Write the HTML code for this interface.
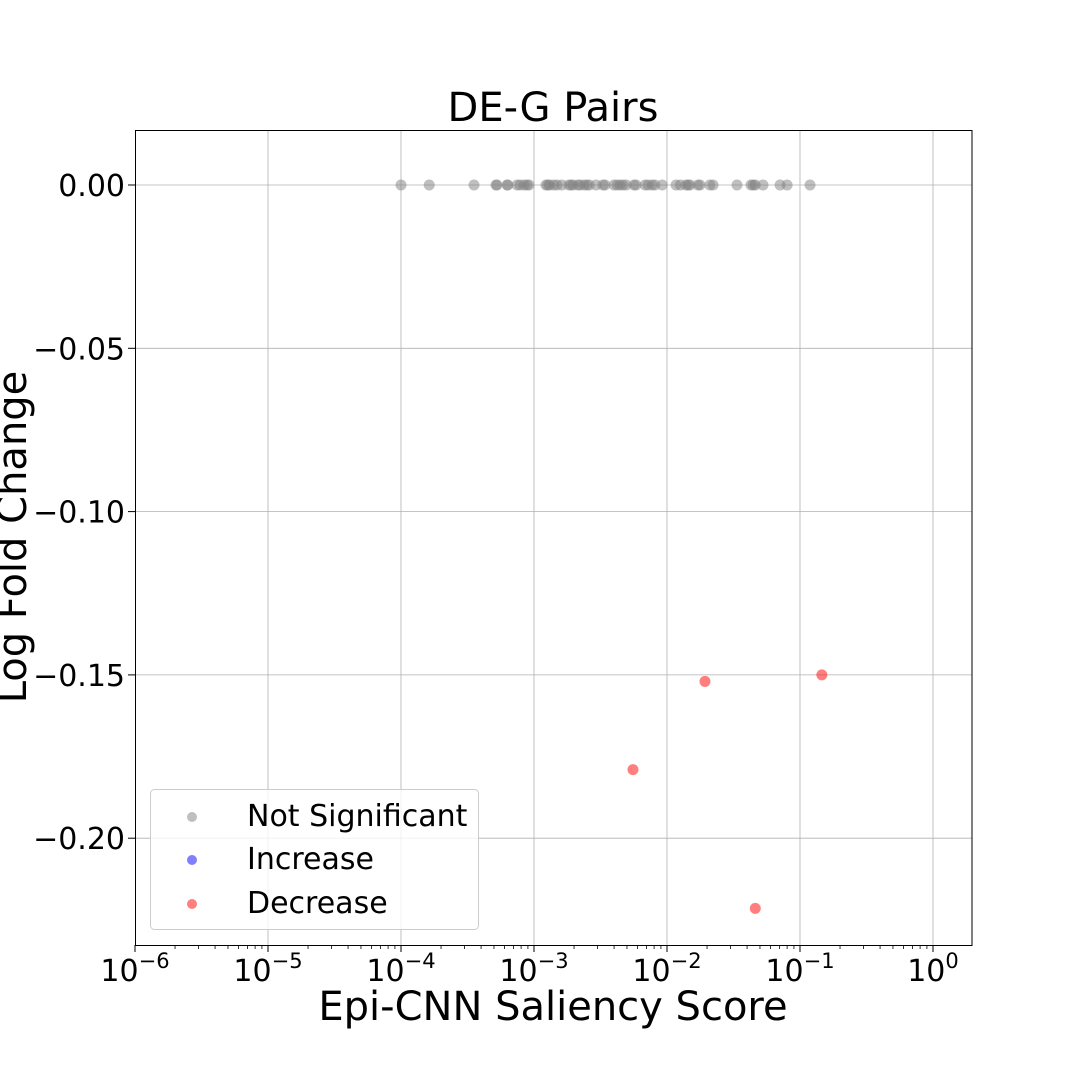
<!DOCTYPE html>
<html><head><meta charset="utf-8"><style>
body{margin:0;background:#fff;}
svg{display:block;font-family:"DejaVu Sans","Liberation Sans",sans-serif;}
</style></head><body>
<svg id="chart" width="1080" height="1080">
<g id="grid"></g>
<g id="points"></g>
<rect x="135.5" y="130.5" width="836.5" height="815" fill="none" stroke="#000" stroke-width="1"/>
<g id="axes"></g>
<text x="553" y="121" font-size="40" text-anchor="middle">DE-G Pairs</text>
<text x="553" y="1020" font-size="40" text-anchor="middle">Epi-CNN Saliency Score</text>
<text transform="translate(26,537) rotate(-90)" font-size="40" text-anchor="middle">Log Fold Change</text>
<g>
<rect x="150.5" y="789.5" width="328" height="140" rx="4" fill="#fff" fill-opacity="0.8" stroke="#ccc"/>
<circle cx="192" cy="817" r="5" fill="#808080" fill-opacity="0.5"/>
<text x="247" y="826" font-size="30">Not Significant</text>
<circle cx="192" cy="860" r="5" fill="#0000ff" fill-opacity="0.5"/>
<text x="247" y="869" font-size="30">Increase</text>
<circle cx="192" cy="904" r="5" fill="#ff0000" fill-opacity="0.5"/>
<text x="247" y="913" font-size="30">Decrease</text>
</g>
</svg>
<script>
const nsX=[1.0e-4,1.63e-4,3.54e-4,5.18e-4,5.27e-4,6.27e-4,6.36e-4,7.45e-4,7.84e-4,8.41e-4,8.86e-4,9.17e-4,1.23e-3,1.27e-3,1.31e-3,1.41e-3,1.49e-3,1.62e-3,1.83e-3,1.90e-3,1.97e-3,2.14e-3,2.22e-3,2.38e-3,2.50e-3,2.60e-3,2.93e-3,3.30e-3,3.42e-3,4.0e-3,4.22e-3,4.44e-3,4.67e-3,4.93e-3,5.65e-3,5.84e-3,6.84e-3,7.2e-3,7.73e-3,8.1e-3,9.2e-3,1.17e-2,1.26e-2,1.39e-2,1.44e-2,1.49e-2,1.71e-2,1.77e-2,2.10e-2,2.22e-2,3.36e-2,4.28e-2,4.45e-2,4.61e-2,5.27e-2,7.08e-2,8.0e-2,1.19e-1];
const nsY=nsX.map(()=>0);
const decX=[5.55e-3,1.93e-2,4.61e-2,1.46e-1];
const decY=[-0.179,-0.152,-0.2215,-0.150];
const xTickExp=[-6,-5,-4,-3,-2,-1,0];
const yTicks=[0,-0.05,-0.10,-0.15,-0.20];
const yTickLabels=["0.00","\u22120.05","\u22120.10","\u22120.15","\u22120.20"];
const NS="http://www.w3.org/2000/svg";
const X=v=>135+(Math.log10(v)+6)*133;
const Y=v=>185-v*3266;
function mk(t,a,p){const e=document.createElementNS(NS,t);for(const k in a)e.setAttribute(k,a[k]);p.appendChild(e);return e;}
const grid=document.getElementById('grid'),axes=document.getElementById('axes'),pts=document.getElementById('points');
xTickExp.forEach(e=>{const x=X(Math.pow(10,e));
 if(e>-6){const l=mk('line',{x1:x,x2:x,y1:130,y2:945,stroke:'#b0b0b0','stroke-width':0.8},grid);
 
 }
 const t=mk('line',{x1:x,x2:x,y1:945,y2:952,stroke:'#000'},axes);
 
 
 const tx=mk('text',{x:x,y:981,'font-size':30,'text-anchor':'middle'},axes);
 
 
 tx.innerHTML='10<tspan font-size="21" dy="-13">'+(e<0?'\u2212':'')+Math.abs(e)+'</tspan>';
 if(e<0)for(let m=2;m<=9;m++){const mx=X(m*Math.pow(10,e));if(mx>972)break;
  const mt=mk('line',{x1:mx,x2:mx,y1:945,y2:949,stroke:'#000','stroke-width':0.8},axes);
  
  }
});
yTicks.forEach((v,i)=>{const y=Y(v);
 const l=mk('line',{x1:135,x2:972,y1:y,y2:y,stroke:'#b0b0b0','stroke-width':0.8},grid);
 
 
 const t=mk('line',{x1:128,x2:135,y1:y,y2:y,stroke:'#000'},axes);
 
 
 const tx=mk('text',{x:125,y:y+11,'font-size':30,'text-anchor':'end'},axes);
 
 
 tx.textContent=yTickLabels[i];
});
nsX.forEach((v,i)=>{const c=mk('circle',{cx:X(v),cy:Y(nsY[i]),r:5.5,fill:'#808080','fill-opacity':0.5},pts);
 
 });
decX.forEach((v,i)=>{const c=mk('circle',{cx:X(v),cy:Y(decY[i]),r:5.5,fill:'#ff0000','fill-opacity':0.5},pts);
 
 });
</script>
</body></html>
